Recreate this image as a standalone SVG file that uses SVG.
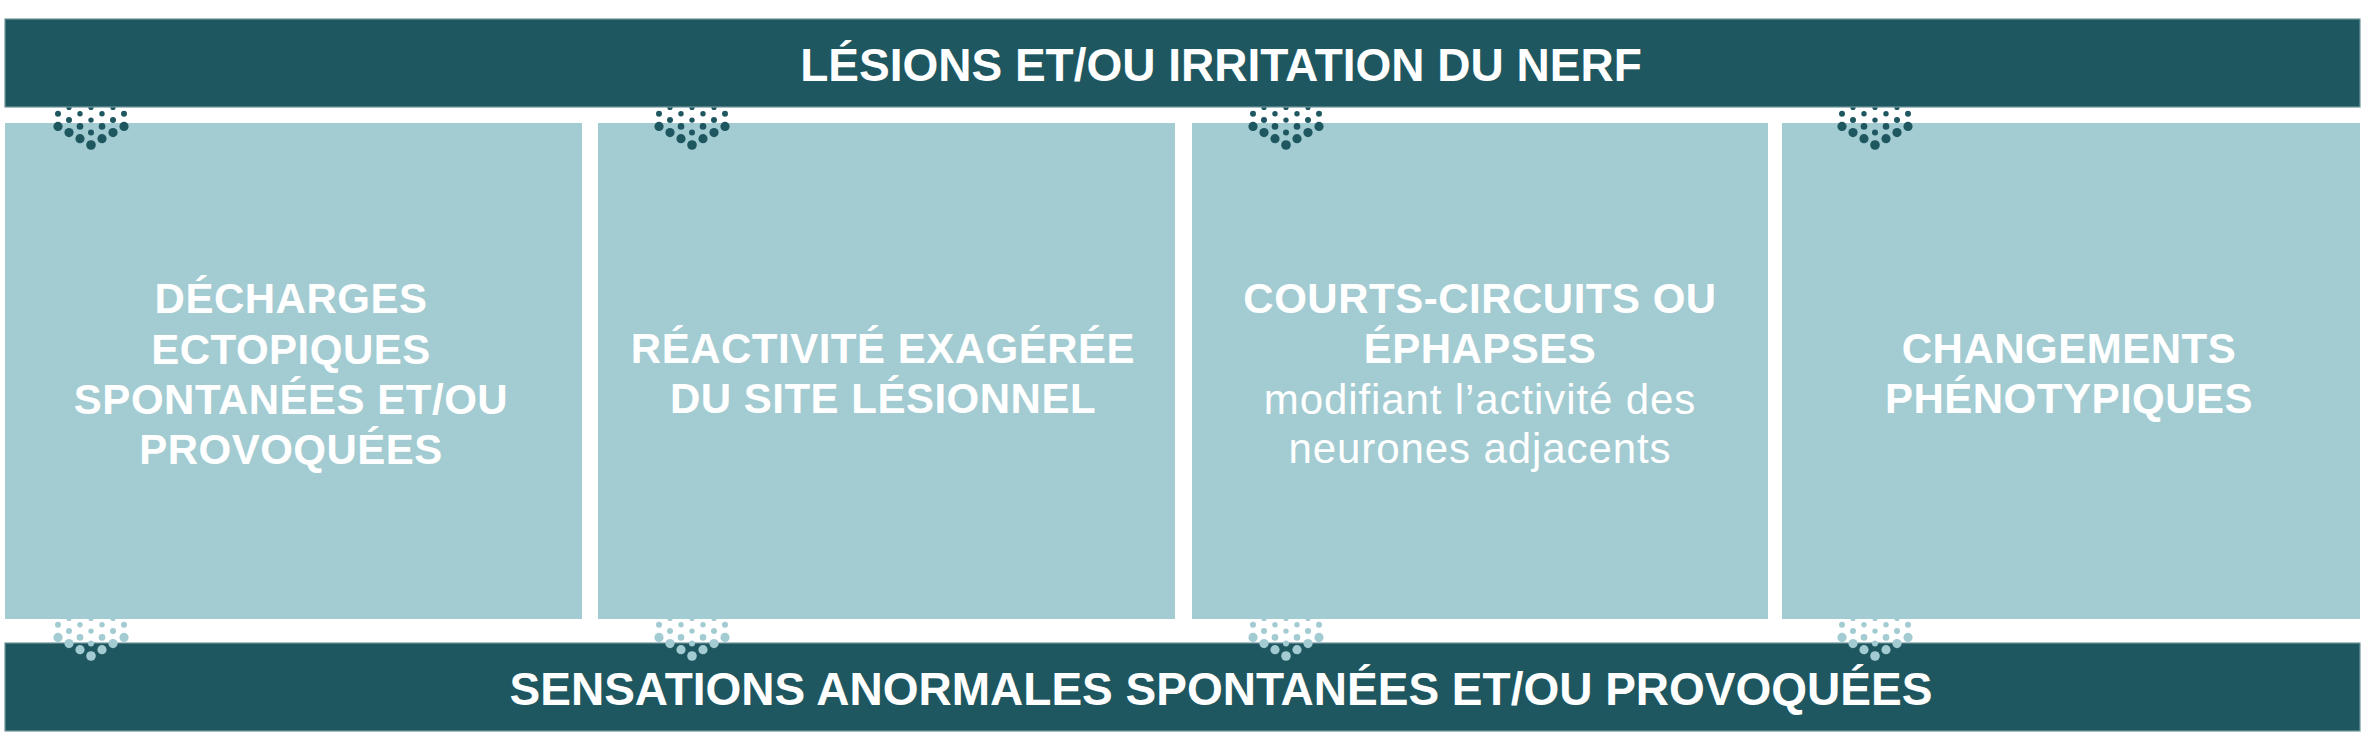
<svg xmlns="http://www.w3.org/2000/svg" xmlns:xlink="http://www.w3.org/1999/xlink" width="2361" height="749" viewBox="0 0 2361 749">
  <style>
    .bar { fill: #1e5760; stroke: #6f969c; stroke-width: 1.2; }
    .box { fill: #a3cbd2; }
    .title { font-family: "Liberation Sans", Arial, Helvetica, sans-serif; font-weight: bold; font-size: 46px; fill: #ffffff; text-anchor: middle; }
    .lbl { font-family: "Liberation Sans", Arial, Helvetica, sans-serif; font-weight: bold; font-size: 42px; letter-spacing: 0.5px; fill: #ffffff; text-anchor: middle; }
    .sub { font-family: "Liberation Sans", Arial, Helvetica, sans-serif; font-weight: normal; font-size: 42px; letter-spacing: 0.9px; fill: #ffffff; text-anchor: middle; }
    .dk { fill: #1e5760; }
    .lt { fill: #a3cbd2; }
  </style>
  <defs>
    <g id="dotv">
      <circle cx="-22" cy="0" r="2.6"/>
      <circle cx="0" cy="0" r="2.6"/>
      <circle cx="22" cy="0" r="2.6"/>
      <circle cx="-33" cy="6.3" r="3"/>
      <circle cx="-11" cy="6.3" r="2.7"/>
      <circle cx="11" cy="6.3" r="2.7"/>
      <circle cx="33" cy="6.3" r="3"/>
      <circle cx="-22" cy="12.6" r="3"/>
      <circle cx="0" cy="12.6" r="2.7"/>
      <circle cx="22" cy="12.6" r="3"/>
      <circle cx="-33" cy="18.9" r="4.6"/>
      <circle cx="-11" cy="18.9" r="3.3"/>
      <circle cx="11" cy="18.9" r="3.3"/>
      <circle cx="33" cy="18.9" r="4.6"/>
      <circle cx="-22" cy="25.1" r="4.6"/>
      <circle cx="0" cy="25.1" r="3"/>
      <circle cx="22" cy="25.1" r="4.6"/>
      <circle cx="-11" cy="31.2" r="4.6"/>
      <circle cx="11" cy="31.2" r="4.6"/>
      <circle cx="0" cy="37.5" r="4.8"/>
    </g>
  </defs>

  <g id="bottom-bar">
    <rect class="bar" x="5" y="643" width="2355" height="88"/>
    <text class="title" x="1221" y="705">SENSATIONS ANORMALES SPONTANÉES ET/OU PROVOQUÉES</text>
  </g>

  <g id="connectors">
    <g class="lt">
      <use xlink:href="#dotv" x="91" y="618.5"/>
      <use xlink:href="#dotv" x="692" y="618.5"/>
      <use xlink:href="#dotv" x="1286" y="618.5"/>
      <use xlink:href="#dotv" x="1875" y="618.5"/>
    </g>
  </g>

  <g id="box1">
    <rect class="box" x="5" y="123" width="577" height="496"/>
    <text class="lbl" x="291" y="313">DÉCHARGES</text>
    <text class="lbl" x="291" y="364">ECTOPIQUES</text>
    <text class="lbl" x="291" y="414">SPONTANÉES ET/OU</text>
    <text class="lbl" x="291" y="464">PROVOQUÉES</text>
  </g>
  <g id="box2">
    <rect class="box" x="598" y="123" width="577" height="496"/>
    <text class="lbl" x="883" y="363">RÉACTIVITÉ EXAGÉRÉE</text>
    <text class="lbl" x="883" y="413">DU SITE LÉSIONNEL</text>
  </g>
  <g id="box3">
    <rect class="box" x="1192" y="123" width="576" height="496"/>
    <text class="lbl" x="1480" y="313">COURTS-CIRCUITS OU</text>
    <text class="lbl" x="1480" y="363">ÉPHAPSES</text>
    <text class="sub" x="1480" y="414">modifiant l’activité des</text>
    <text class="sub" x="1480" y="463">neurones adjacents</text>
  </g>
  <g id="box4">
    <rect class="box" x="1782" y="123" width="578" height="496"/>
    <text class="lbl" x="2069" y="363">CHANGEMENTS</text>
    <text class="lbl" x="2069" y="413">PHÉNOTYPIQUES</text>
  </g>

  <g id="connectors-top">
    <g class="dk">
      <use xlink:href="#dotv" x="91" y="107.5"/>
      <use xlink:href="#dotv" x="692" y="107.5"/>
      <use xlink:href="#dotv" x="1286" y="107.5"/>
      <use xlink:href="#dotv" x="1875" y="107.5"/>
    </g>
  </g>

  <g id="top-bar">
    <rect class="bar" x="5" y="19" width="2355" height="88"/>
    <text class="title" x="1221" y="81">LÉSIONS ET/OU IRRITATION DU NERF</text>
  </g>
</svg>
